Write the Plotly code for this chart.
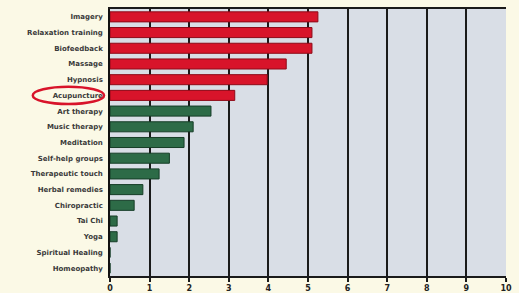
import plotly.graph_objects as go

categories = ["Imagery", "Relaxation training", "Biofeedback", "Massage", "Hypnosis",
              "Acupuncture", "Art therapy", "Music therapy", "Meditation",
              "Self-help groups", "Therapeutic touch", "Herbal remedies",
              "Chiropractic", "Tai Chi", "Yoga", "Spiritual Healing", "Homeopathy"]
values = [5.25, 5.1, 5.1, 4.45, 3.97, 3.15, 2.55, 2.1, 1.87, 1.5, 1.24, 0.83,
          0.61, 0.18, 0.18, 0, 0]
groups = ["red"] * 6 + ["green"] * 11
tick_vals = list(range(0, 11))
tick_text = [str(v) for v in tick_vals]

color_map = {"red": "#d8142a", "green": "#2d6b47"}
line_map = {"red": "#8e0a18", "green": "#163d27"}

fig = go.Figure(go.Bar(
    y=categories, x=values, orientation="h",
    marker=dict(color=[color_map[g] for g in groups],
                line=dict(color=[line_map[g] for g in groups], width=1)),
    width=0.64,
))

fig.update_layout(
    width=519, height=293,
    margin=dict(l=110, r=13, t=9, b=17, autoexpand=False),
    paper_bgcolor="#fbf9e6",
    plot_bgcolor="#d9dee6",
    showlegend=False,
    font=dict(family="DejaVu Sans", size=7, color="#333333"),
)
fig.update_yaxes(
    categoryorder="array", categoryarray=categories[::-1],
    showgrid=False, showline=True, linecolor="#111111", linewidth=1.5,
    ticks="", ticklabelstandoff=4, automargin=False,
    tickfont=dict(size=7, family="DejaVu Sans", color="#3a3a3a", weight="bold"),
)
fig.update_xaxes(
    range=[0, 10], tickvals=tick_vals, ticktext=tick_text, automargin=False,
    showgrid=True, gridcolor="#1a1a1a", gridwidth=1.5,
    showline=True, linecolor="#1a1a1a", linewidth=1.5, mirror=True,
    ticks="outside", ticklen=4, tickcolor="#1a1a1a", tickwidth=1.5,
    tickfont=dict(size=8, color="#222222", weight="bold"),
    zeroline=False,
)

fig.add_shape(type="circle", xref="paper", yref="y",
              x0=-0.195, x1=-0.015, y0=11.55, y1=10.45,
              line=dict(color="#d8142a", width=2.5))

fig.write_html(
    "out.html",
    config={"displayModeBar": False},
    post_script="document.body.style.margin='0';document.body.style.background='#fbf9e6';",
)
